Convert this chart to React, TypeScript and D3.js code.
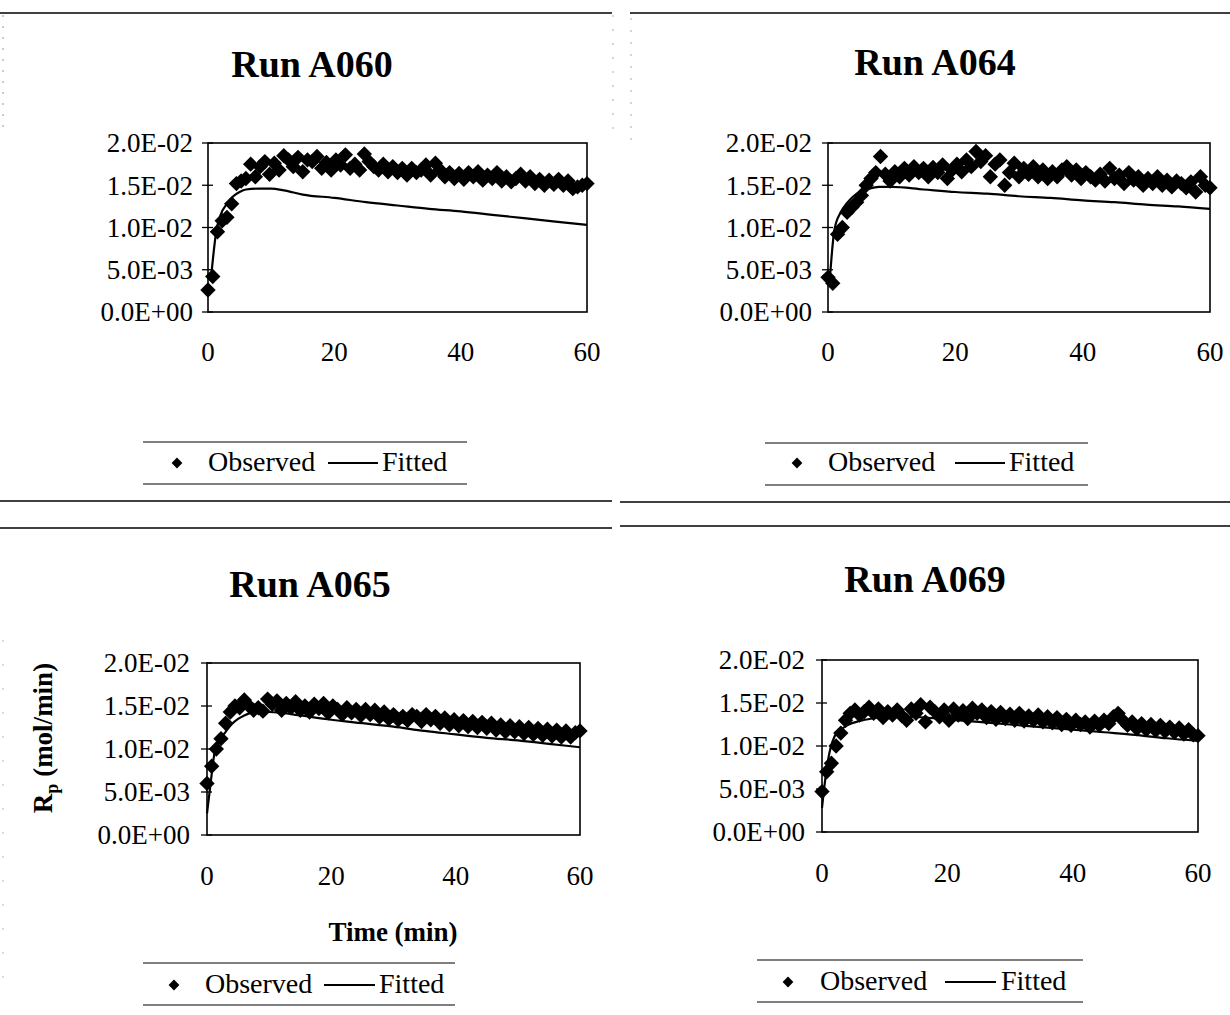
import React from "react";
import * as d3 from "d3";

// Sampling times (min) shared by all observed series
const TIME = [
  0, 0.75, 1.5, 2.25, 3, 3.75, 4.5, 5.25, 6, 6.75, 7.5, 8.25, 9, 9.75, 10.5, 11.25,
  12, 12.75, 13.5, 14.25, 15, 15.75, 16.5, 17.25, 18, 18.75, 19.5, 20.25, 21, 21.75,
  22.5, 23.25, 24, 24.75, 25.5, 26.25, 27, 27.75, 28.5, 29.25, 30, 30.75, 31.5, 32.25,
  33, 33.75, 34.5, 35.25, 36, 36.75, 37.5, 38.25, 39, 39.75, 40.5, 41.25, 42, 42.75,
  43.5, 44.25, 45, 45.75, 46.5, 47.25, 48, 48.75, 49.5, 50.25, 51, 51.75, 52.5, 53.25,
  54, 54.75, 55.5, 56.25, 57, 57.75, 58.5, 59.25, 60,
];

// Observed polymerization rate Rp (mol/min)
const OBS_A060 = [
  0.0026, 0.0042, 0.0095, 0.0108, 0.0112, 0.0128, 0.0152, 0.0155, 0.0158, 0.0175,
  0.016, 0.0172, 0.0178, 0.0163, 0.0176, 0.0168, 0.0185, 0.018, 0.0172, 0.0183,
  0.0166, 0.018, 0.0178, 0.0184, 0.017, 0.0177, 0.0168, 0.018, 0.0174, 0.0186,
  0.017, 0.0175, 0.0168, 0.0187, 0.0178, 0.0172, 0.0168, 0.0175, 0.0166, 0.0172,
  0.0165, 0.017, 0.0162, 0.017, 0.0165, 0.0168, 0.0174, 0.0162, 0.0176, 0.0168,
  0.016, 0.0165, 0.0158, 0.0164, 0.0157, 0.0165, 0.016, 0.0166, 0.0156, 0.0162,
  0.0158, 0.0165, 0.0155, 0.016, 0.0154, 0.0158, 0.0163, 0.0155, 0.016, 0.0152,
  0.0157, 0.015, 0.0156, 0.0151, 0.0157, 0.015, 0.0155, 0.0146, 0.0148, 0.015, 0.0152,
];
const OBS_A064 = [
  0.0041, 0.0034, 0.0092, 0.01, 0.0118, 0.0124, 0.013, 0.0138, 0.015, 0.0158,
  0.0165, 0.0184, 0.0163, 0.0155, 0.0166, 0.016, 0.017, 0.0162, 0.0172, 0.0165,
  0.017, 0.016, 0.0171, 0.0165, 0.0174, 0.0158, 0.0168, 0.0175, 0.0166, 0.018,
  0.0172, 0.019, 0.0178, 0.0185, 0.016, 0.0175, 0.018, 0.015, 0.0165, 0.0176,
  0.016, 0.017, 0.0163, 0.0172, 0.016, 0.0168, 0.0158, 0.0166, 0.016, 0.0168,
  0.0172, 0.0162, 0.0168, 0.0158, 0.0165, 0.016, 0.0156, 0.0163, 0.0155, 0.017,
  0.0158, 0.0162, 0.0152, 0.0165, 0.0156, 0.016, 0.015, 0.0158, 0.0152, 0.016,
  0.015, 0.0156, 0.0148, 0.0155, 0.0152, 0.0147, 0.0154, 0.0142, 0.016, 0.015, 0.0147,
];
const OBS_A065 = [
  0.006, 0.008, 0.01, 0.0112, 0.013, 0.0143, 0.015, 0.0148, 0.0157, 0.015,
  0.0145, 0.0148, 0.0144, 0.0158, 0.0152, 0.0156, 0.0145, 0.0153, 0.0148, 0.0155,
  0.0145, 0.015, 0.0143, 0.0152, 0.0147, 0.0153, 0.0142, 0.015, 0.0146, 0.014,
  0.0148, 0.0142, 0.0146, 0.0139, 0.0146, 0.014, 0.0145, 0.0137, 0.0143, 0.0135,
  0.014, 0.0134, 0.0138, 0.0133, 0.014, 0.0138, 0.0132, 0.014, 0.0134, 0.0138,
  0.013, 0.0136, 0.0128, 0.0134, 0.0127, 0.0133, 0.0126, 0.0132, 0.0125, 0.0131,
  0.0124, 0.013, 0.0122, 0.0128, 0.012, 0.0127, 0.012, 0.0126, 0.0118, 0.0125,
  0.0117, 0.0124, 0.0116, 0.0123, 0.0115, 0.0122, 0.0114, 0.0121, 0.0114, 0.0119, 0.0121,
];
const OBS_A069 = [
  0.0047, 0.007, 0.008, 0.01, 0.0115, 0.013, 0.0138, 0.0142, 0.0136, 0.014,
  0.0145, 0.0138, 0.0143, 0.0133, 0.014, 0.0136, 0.0142, 0.0135, 0.013, 0.0143,
  0.0138, 0.0148, 0.0128, 0.0145, 0.014, 0.0134, 0.0142, 0.013, 0.0143, 0.0136,
  0.0141, 0.0132, 0.0144, 0.0138, 0.0142, 0.0133, 0.014, 0.0131, 0.0139, 0.0132,
  0.0137, 0.013, 0.0138, 0.0129, 0.0135, 0.013, 0.0136, 0.0128, 0.0134, 0.0127,
  0.0133, 0.0125, 0.0131, 0.0124, 0.013, 0.0125, 0.0128, 0.0122, 0.0129, 0.0124,
  0.013, 0.0126, 0.0134, 0.0138, 0.013, 0.0124, 0.0128, 0.012, 0.0126, 0.0119,
  0.0125, 0.0118, 0.0124, 0.0117, 0.0122, 0.0116, 0.0121, 0.0114, 0.0119, 0.0113, 0.0112,
];

// Model (fitted) curves: times and rates
const FIT_T_A060 = [0.5, 1.3, 2, 3, 4, 5, 6, 8, 10, 12, 15, 20, 25, 30, 35, 40, 45, 50, 55, 60];
const FIT_A060 = [
  0.0042, 0.0095, 0.0115, 0.0128, 0.0137, 0.0142, 0.0145, 0.0146, 0.0146, 0.0144,
  0.0139, 0.0135, 0.013, 0.0126, 0.0122, 0.0119, 0.0115, 0.0111, 0.0107, 0.0103,
];
const FIT_T_A064 = [0.3, 1, 2, 3, 4, 5, 6.5, 8, 10, 15, 20, 25, 30, 35, 40, 45, 50, 55, 60];
const FIT_A064 = [
  0.004, 0.0097, 0.0118, 0.0129, 0.0137, 0.0142, 0.0146, 0.0148, 0.0148, 0.0145,
  0.0142, 0.014, 0.0137, 0.0135, 0.0132, 0.013, 0.0127, 0.0125, 0.0122,
];
const FIT_T_A065 = [0, 0.5, 1.3, 2, 3, 4, 5, 6, 7, 8, 10, 12, 15, 20, 25, 30, 35, 40, 45, 50, 55, 60];
const FIT_A065 = [
  0.0025, 0.0055, 0.0099, 0.011, 0.012, 0.0129, 0.0135, 0.0139, 0.0142, 0.0143, 0.0143,
  0.0142, 0.0139, 0.0134, 0.013, 0.0126, 0.0121, 0.0117, 0.0113, 0.011, 0.0106, 0.0102,
];
const FIT_T_A069 = [0, 0.5, 1, 2, 3, 4, 6, 8, 10, 14, 20, 25, 30, 35, 40, 45, 50, 55, 60];
const FIT_A069 = [
  0.0028, 0.006, 0.0085, 0.0111, 0.0119, 0.0124, 0.0129, 0.0132, 0.0134, 0.0134,
  0.0131, 0.0128, 0.0125, 0.0122, 0.0119, 0.0116, 0.0113, 0.0109, 0.0106,
];

const Y_TICKS = [0, 0.005, 0.01, 0.015, 0.02];
const Y_TICK_LABELS = ["0.0E+00", "5.0E-03", "1.0E-02", "1.5E-02", "2.0E-02"];
const X_TICKS = [0, 20, 40, 60];
const RUN_NAMES = ["Run A060", "Run A064", "Run A065", "Run A069"];
const LEGEND_LABELS = ["Observed", "Fitted"];
const X_TITLE = "Time (min)";

const FONT = "'Liberation Serif', 'Times New Roman', Times, serif";

type Layout = {
  cx: number; titleY: number;
  left: number; right: number; top: number; bottom: number;
  yLabelX: number; xLabelY: number;
  lgLeft: number; lgRight: number; lgTop: number; lgBottom: number;
  lgDiamond: number; lgObs: number; lgDash0: number; lgDash1: number; lgFit: number; lgBase: number;
};

const LAYOUTS: Layout[] = [
  { cx: 312, titleY: 77, left: 208, right: 587, top: 143, bottom: 312, yLabelX: 193, xLabelY: 361,
    lgLeft: 143, lgRight: 467, lgTop: 442, lgBottom: 484, lgDiamond: 177, lgObs: 208, lgDash0: 328,
    lgDash1: 378, lgFit: 382, lgBase: 471 },
  { cx: 935, titleY: 75, left: 828, right: 1210, top: 143, bottom: 312, yLabelX: 812, xLabelY: 361,
    lgLeft: 765, lgRight: 1088, lgTop: 443, lgBottom: 485, lgDiamond: 797, lgObs: 828, lgDash0: 955,
    lgDash1: 1005, lgFit: 1009, lgBase: 471 },
  { cx: 310, titleY: 597, left: 207, right: 580, top: 663, bottom: 835, yLabelX: 190, xLabelY: 885,
    lgLeft: 143, lgRight: 455, lgTop: 963, lgBottom: 1005, lgDiamond: 174, lgObs: 205, lgDash0: 324,
    lgDash1: 375, lgFit: 379, lgBase: 993 },
  { cx: 925, titleY: 592, left: 822, right: 1198, top: 660, bottom: 832, yLabelX: 805, xLabelY: 882,
    lgLeft: 757, lgRight: 1083, lgTop: 960, lgBottom: 1002, lgDiamond: 788, lgObs: 820, lgDash0: 945,
    lgDash1: 996, lgFit: 1001, lgBase: 990 },
];

const SERIES = [
  { obs: OBS_A060, fitT: FIT_T_A060, fit: FIT_A060 },
  { obs: OBS_A064, fitT: FIT_T_A064, fit: FIT_A064 },
  { obs: OBS_A065, fitT: FIT_T_A065, fit: FIT_A065 },
  { obs: OBS_A069, fitT: FIT_T_A069, fit: FIT_A069 },
];

const diamondPath = d3.symbol(d3.symbolSquare, 118)() as string;
const legendDiamond = d3.symbol(d3.symbolSquare, 58)() as string;

function Panel({ idx }: { idx: number }) {
  const L = LAYOUTS[idx];
  const S = SERIES[idx];
  const x = d3.scaleLinear().domain([0, 60]).range([L.left, L.right]);
  const y = d3.scaleLinear().domain([0, 0.02]).range([L.bottom, L.top]);
  const fitPts: [number, number][] = S.fitT.map((t, i) => [t, S.fit[i]]);
  const line = d3
    .line<[number, number]>()
    .x((d) => x(d[0]))
    .y((d) => y(d[1]))
    .curve(d3.curveMonotoneX);

  return (
    <g>
      <text x={L.cx} y={L.titleY} textAnchor="middle" fontFamily={FONT} fontWeight="bold" fontSize={38}>
        {RUN_NAMES[idx]}
      </text>
      {/* observed points */}
      {TIME.map((t, i) => (
        <path key={i} d={diamondPath} transform={`translate(${x(t)},${y(S.obs[i])}) rotate(45)`} fill="#000" />
      ))}
      {/* fitted curve */}
      <path d={line(fitPts) || ""} fill="none" stroke="#000" strokeWidth={2.2} />
      {/* frame */}
      <rect x={L.left} y={L.top} width={L.right - L.left} height={L.bottom - L.top} fill="none" stroke="#000" strokeWidth={1.6} />
      {Y_TICKS.map((v, i) => (
        <g key={i}>
          <line x1={L.left - 6} x2={L.left + 5} y1={y(v)} y2={y(v)} stroke="#000" strokeWidth={1.3} />
          <text x={L.yLabelX} y={y(v)} dy="0.35em" textAnchor="end" fontFamily={FONT} fontSize={27}>
            {Y_TICK_LABELS[i]}
          </text>
        </g>
      ))}
      {X_TICKS.map((v) => (
        <text key={v} x={x(v)} y={L.xLabelY} textAnchor="middle" fontFamily={FONT} fontSize={27}>
          {v}
        </text>
      ))}
      {/* legend */}
      <line x1={L.lgLeft} x2={L.lgRight} y1={L.lgTop} y2={L.lgTop} stroke="#000" strokeWidth={1.2} />
      <line x1={L.lgLeft} x2={L.lgRight} y1={L.lgBottom} y2={L.lgBottom} stroke="#000" strokeWidth={1.2} />
      <path d={legendDiamond} transform={`translate(${L.lgDiamond},${L.lgBase - 8}) rotate(45)`} fill="#000" />
      <text x={L.lgObs} y={L.lgBase} fontFamily={FONT} fontSize={28}>{LEGEND_LABELS[0]}</text>
      <line x1={L.lgDash0} x2={L.lgDash1} y1={L.lgBase - 8} y2={L.lgBase - 8} stroke="#000" strokeWidth={1.8} />
      <text x={L.lgFit} y={L.lgBase} fontFamily={FONT} fontSize={28}>{LEGEND_LABELS[1]}</text>
    </g>
  );
}

export default function App() {
  return (
    <svg
      width={1230}
      height={1015}
      viewBox="0 0 1230 1015"
      style={{ position: "absolute", left: 0, top: 0, background: "#fff", display: "block" }}
    >
      <rect x={0} y={0} width={1230} height={1015} fill="#fff" />
      {/* panel separators */}
      <line x1={0} x2={612} y1={13} y2={13} stroke="#000" strokeWidth={1.6} />
      <line x1={630} x2={1230} y1={13} y2={13} stroke="#000" strokeWidth={1.6} />
      <line x1={0} x2={612} y1={501} y2={501} stroke="#000" strokeWidth={1.4} />
      <line x1={0} x2={612} y1={528} y2={528} stroke="#000" strokeWidth={1.4} />
      <line x1={620} x2={1230} y1={502} y2={502} stroke="#000" strokeWidth={1.4} />
      <line x1={620} x2={1230} y1={526} y2={526} stroke="#000" strokeWidth={1.4} />
      {/* faint dotted frame remnants */}
      <line x1={3} x2={3} y1={15} y2={135} stroke="#999" strokeWidth={1} strokeDasharray="2 9" />
      <line x1={613} x2={613} y1={15} y2={140} stroke="#aaa" strokeWidth={1} strokeDasharray="2 12" />
      <line x1={631} x2={631} y1={18} y2={140} stroke="#aaa" strokeWidth={1} strokeDasharray="2 10" />
      <line x1={3} x2={3} y1={640} y2={1000} stroke="#bbb" strokeWidth={1} strokeDasharray="2 22" />
      {[0, 1, 2, 3].map((i) => (
        <Panel key={i} idx={i} />
      ))}
      {/* shared axis titles */}
      <text x={393} y={941} textAnchor="middle" fontFamily={FONT} fontWeight="bold" fontSize={27}>
        {X_TITLE}
      </text>
      <text
        transform="translate(52,738) rotate(-90)"
        textAnchor="middle"
        fontFamily={FONT}
        fontWeight="bold"
        fontSize={27}
      >
        R<tspan fontSize={18} dy={6}>p</tspan>
        <tspan dy={-6}> (mol/min)</tspan>
      </text>
    </svg>
  );
}
